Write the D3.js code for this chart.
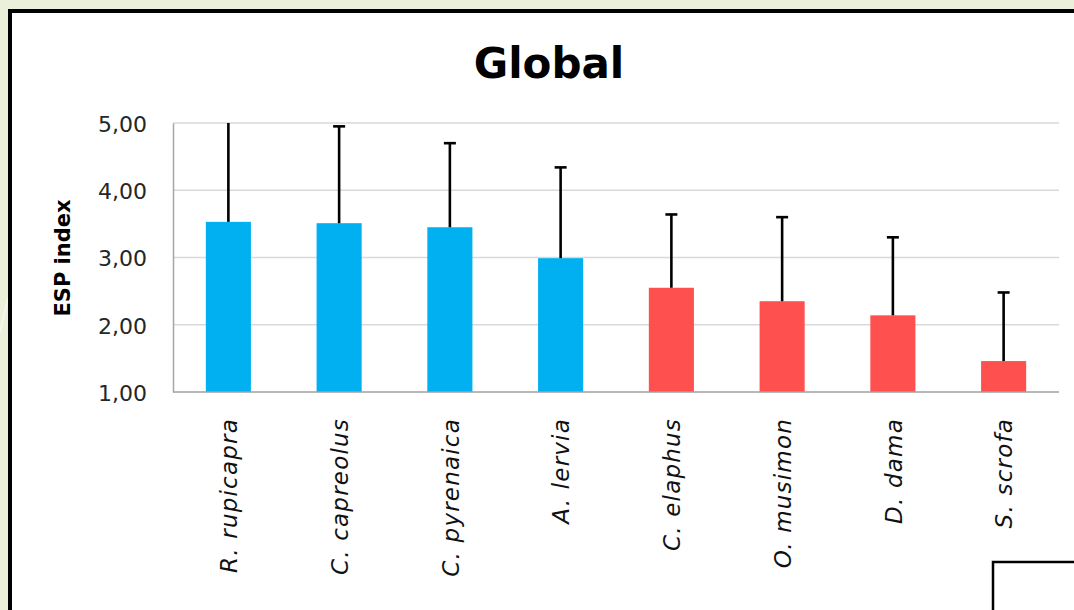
<!DOCTYPE html>
<html>
<head>
<meta charset="utf-8">
<script src="https://cdn.jsdelivr.net/npm/d3@7"></script>
<style>
  html, body { margin: 0; padding: 0; background: #ebf0da; }
  svg { display: block; }
</style>
</head>
<body>
<svg id="chart" width="1074" height="610"></svg>
<script>
// Species and their ESP index (mean and standard deviation)
const species = ["R. rupicapra", "C. capreolus", "C. pyrenaica", "A. lervia",
                 "C. elaphus", "O. musimon", "D. dama", "S. scrofa"];
const meanESP = [3.53, 3.51, 3.45, 2.99, 2.55, 2.35, 2.14, 1.46];
const sdESP   = [1.62, 1.44, 1.25, 1.35, 1.09, 1.25, 1.16, 1.02];
const group   = ["high", "high", "high", "high", "low", "low", "low", "low"];
const yTicks  = [1, 2, 3, 4, 5];
const chartTitle = "Global";
const yTitle = "ESP index";

const FONT = "'DejaVu Sans', sans-serif";
const colors = { high: "#00b0f0", low: "#ff5050" };

const svg = d3.select("#chart");

// Page background and white chart frame
svg.append("rect").attr("width", 1074).attr("height", 610).attr("fill", "#ebf0da");
svg.append("line")
  .attr("x1", 0).attr("y1", 332).attr("x2", 8).attr("y2", 298)
  .attr("stroke", "#f6f8ef").attr("stroke-width", 1.5);
svg.append("rect")
  .attr("x", 10).attr("y", 11).attr("width", 1100).attr("height", 650)
  .attr("fill", "#ffffff").attr("stroke", "#000").attr("stroke-width", 4);

const plot = { left: 173, right: 1059, top: 123, bottom: 392 };

const x = d3.scaleBand()
  .domain(species)
  .range([plot.left, plot.right])
  .paddingInner(0.593)
  .paddingOuter(0.2965);

const y = d3.scaleLinear()
  .domain([yTicks[0], yTicks[yTicks.length - 1]])
  .range([plot.bottom, plot.top]);

// Horizontal gridlines
svg.append("g")
  .selectAll("line")
  .data(yTicks.slice(1))
  .join("line")
  .attr("x1", plot.left).attr("x2", plot.right)
  .attr("y1", d => y(d)).attr("y2", d => y(d))
  .attr("stroke", "#d9d9d9").attr("stroke-width", 1.5);

// Y axis with comma decimal labels
const yAxis = svg.append("g")
  .attr("transform", `translate(${plot.left},0)`)
  .call(d3.axisLeft(y)
    .tickValues(yTicks)
    .tickSize(0)
    .tickPadding(26)
    .tickFormat(d => d.toFixed(2).replace(".", ",")));
yAxis.select(".domain").attr("stroke", "#a6a6a6").attr("stroke-width", 1.5);
yAxis.selectAll("text")
  .attr("font-family", FONT).attr("font-size", 22).attr("fill", "#262626")
  .attr("dy", "0.38em");

// Bars
const data = species.map((s, i) => ({ s, m: meanESP[i], sd: sdESP[i], g: group[i] }));

svg.append("g")
  .selectAll("rect")
  .data(data)
  .join("rect")
  .attr("x", d => x(d.s))
  .attr("width", x.bandwidth())
  .attr("y", d => y(d.m))
  .attr("height", d => y(yTicks[0]) - y(d.m))
  .attr("fill", d => colors[d.g]);

// Baseline
svg.append("line")
  .attr("x1", plot.left).attr("x2", plot.right)
  .attr("y1", y(1)).attr("y2", y(1))
  .attr("stroke", "#a0a0a0").attr("stroke-width", 1.5);

// Upper error bars, clipped to the top of the value axis
const yMax = yTicks[yTicks.length - 1];
const err = svg.append("g");
data.forEach(d => {
  const cx = x(d.s) + x.bandwidth() / 2;
  const top = d.m + d.sd;
  const topY = y(Math.min(top, yMax));
  err.append("line")
    .attr("x1", cx).attr("x2", cx)
    .attr("y1", y(d.m)).attr("y2", topY)
    .attr("stroke", "#000").attr("stroke-width", 2.6);
  if (top <= yMax) {
    err.append("line")
      .attr("x1", cx - 6).attr("x2", cx + 6)
      .attr("y1", topY).attr("y2", topY)
      .attr("stroke", "#000").attr("stroke-width", 2.6);
  }
});

// Category labels, rotated
svg.append("g")
  .selectAll("text")
  .data(species)
  .join("text")
  .attr("transform", d => `translate(${x(d) + x.bandwidth() / 2},${plot.bottom + 26}) rotate(-90)`)
  .attr("text-anchor", "end")
  .attr("dy", "0.38em")
  .attr("font-family", FONT)
  .attr("font-style", "italic")
  .attr("font-size", 23)
  .attr("letter-spacing", 1.2)
  .attr("fill", "#111")
  .text(d => d);

// Y axis title
svg.append("text")
  .attr("transform", `translate(63,258) rotate(-90)`)
  .attr("text-anchor", "middle")
  .attr("dy", "0.35em")
  .attr("font-family", FONT)
  .attr("font-weight", "bold")
  .attr("font-size", 21)
  .attr("fill", "#000")
  .text(yTitle);

// Chart title
svg.append("text")
  .attr("x", 549).attr("y", 78)
  .attr("text-anchor", "middle")
  .attr("font-family", FONT)
  .attr("font-weight", "bold")
  .attr("font-size", 42)
  .attr("fill", "#000")
  .text(chartTitle);

// Box in the lower right corner
svg.append("rect")
  .attr("x", 993).attr("y", 562).attr("width", 200).attr("height", 100)
  .attr("fill", "none").attr("stroke", "#000").attr("stroke-width", 2.5);
</script>
</body>
</html>
